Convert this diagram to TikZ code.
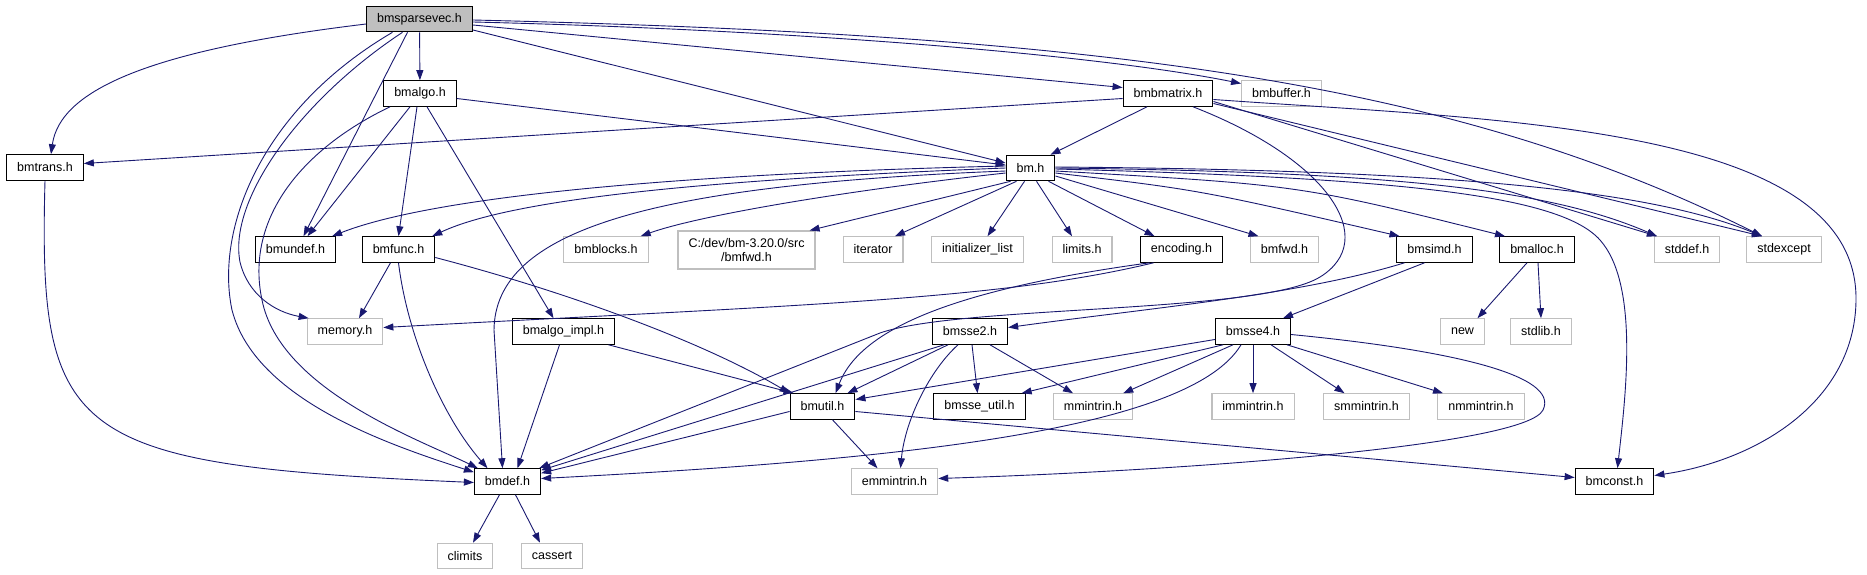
\documentclass[tikz,border=0pt]{standalone}
\usepackage{fontspec}
\setmainfont{Liberation Sans}
\usetikzlibrary{arrows.meta}
\definecolor{edgeblue}{HTML}{191970}
\definecolor{extgray}{HTML}{BFBFBF}
\begin{document}
\begin{tikzpicture}[x=1pt, y=-1pt,
		box/.style={rectangle, inner xsep=10.5pt, inner ysep=2pt, minimum height=25.5pt, font=\fontsize{12.5}{14}\selectfont},
		doc/.style={box, draw=black, line width=1.1pt, fill=white},
		ext/.style={box, draw=extgray, line width=1.1pt, fill=white},
		root/.style={doc, fill=extgray},
		incl/.style={draw=edgeblue, line width=0.9pt, -{Triangle[length=10pt,width=7pt]}}]
		\useasboundingbox (0,0) rectangle (1867,575);
		\node[root] (sparsevec) at (419.5,19) {bmsparsevec.h};
		\node[doc] (algo) at (420,93.5) {bmalgo.h};
		\node[doc] (bmatrix) at (1168,93.5) {bmbmatrix.h};
		\node[ext] (buffer) at (1281.5,93.5) {bmbuffer.h};
		\node[doc] (trans) at (45,167.5) {bmtrans.h};
		\node[doc] (bm) at (1030.5,168) {bm.h};
		\node[doc] (undef) at (295.5,249.5) {bmundef.h};
		\node[doc] (func) at (398.5,249.5) {bmfunc.h};
		\node[ext] (blocks) at (606,249.5) {bmblocks.h};
		\node[ext, align=center, minimum height=38pt] (fwdpath) at (746.5,250) {C:/dev/bm-3.20.0/src\\/bmfwd.h};
		\node[ext] (iterator) at (873,249.5) {iterator};
		\node[ext] (initlist) at (977.5,249.5) {initializer\_list};
		\node[ext] (limits) at (1082,249.5) {limits.h};
		\node[doc] (encoding) at (1181.5,249.5) {encoding.h};
		\node[ext] (fwd) at (1284.5,249.5) {bmfwd.h};
		\node[doc] (simd) at (1434.5,249.5) {bmsimd.h};
		\node[doc] (alloc) at (1537,249.5) {bmalloc.h};
		\node[ext] (stddef) at (1687,249.5) {stddef.h};
		\node[ext] (stdexcept) at (1784,249.5) {stdexcept};
		\node[ext] (memory) at (345,331.5) {memory.h};
		\node[doc] (algoimpl) at (563.5,331.5) {bmalgo\_impl.h};
		\node[doc] (sse2) at (970,331.5) {bmsse2.h};
		\node[doc] (sse4) at (1253,331.5) {bmsse4.h};
		\node[ext] (new) at (1462.5,331.5) {new};
		\node[ext] (stdlib) at (1541,331.5) {stdlib.h};
		\node[doc] (util) at (822.5,406.5) {bmutil.h};
		\node[doc] (sseutil) at (979.5,406.5) {bmsse\_util.h};
		\node[ext] (mmintrin) at (1093,406.5) {mmintrin.h};
		\node[ext] (immintrin) at (1253,406.5) {immintrin.h};
		\node[ext] (smmintrin) at (1366.5,406.5) {smmintrin.h};
		\node[ext] (nmmintrin) at (1481,406.5) {nmmintrin.h};
		\node[doc] (def) at (507.5,481.5) {bmdef.h};
		\node[ext] (emmintrin) at (894.5,481.5) {emmintrin.h};
		\node[doc] (const) at (1614.5,481.5) {bmconst.h};
		\node[ext] (climits) at (465,556) {climits};
		\node[ext] (cassert) at (552,556) {cassert};

		\draw[incl] ([yshift=-5pt]sparsevec.west) .. controls (150,50) and (60,90) .. ([xshift=6pt]trans.north);
		\draw[incl] (sparsevec) -- (algo);
		\draw[incl] ([yshift=-6pt]sparsevec.east) -- ([yshift=6pt]bmatrix.west);
		\draw[incl] ([yshift=-3pt]sparsevec.east) .. controls (800,30) and (1100,55) .. ([yshift=10pt]buffer.west);
		\draw[incl] ([yshift=-1pt]sparsevec.east) .. controls (1100,35) and (1450,80) .. ([xshift=-22pt]stdexcept.north);
		\draw[incl] ([yshift=-11pt]sparsevec.east) -- ([yshift=5pt]bm.west);
		\draw[incl] ([xshift=-12pt]sparsevec.south) -- ([xshift=8pt]undef.north);
		\draw[incl] ([xshift=-17pt]sparsevec.south) .. controls (300,100) and (228,200) .. (240,262) .. controls (248,295) and (275,312) .. ([xshift=2pt]memory.north west);
		\draw[incl] ([xshift=-27pt]sparsevec.south) .. controls (260,110) and (215,230) .. (232,310) .. controls (255,400) and (390,445) .. ([yshift=-4pt]def.north west);

		\draw[incl] ([yshift=-5pt]algo.east) -- ([yshift=3pt]bm.west);
		\draw[incl] ([xshift=-10pt]algo.south) -- ([xshift=12pt]undef.north);
		\draw[incl] ([xshift=-3pt]algo.south) -- (func.north);
		\draw[incl] ([xshift=7pt]algo.south) -- ([xshift=-10pt]algoimpl.north);
		\draw[incl] ([xshift=-30pt]algo.south) .. controls (300,150) and (245,220) .. (262,300) .. controls (280,390) and (420,440) .. ([xshift=4pt]def.north west);

		\draw[incl] (trans.south) .. controls (38,440) and (70,465) .. ([yshift=-1pt]def.west);

		\draw[incl] ([yshift=-5pt]bmatrix.west) -- ([yshift=4pt]trans.east);
		\draw[incl] ([xshift=-21pt]bmatrix.south) -- ([xshift=20pt]bm.north);
		\draw[incl] ([xshift=25pt]bmatrix.south) .. controls (1330,160) and (1380,240) .. (1320,277) .. controls (1260,314) and (960,305) .. (880,333) -- ([xshift=-2pt]def.north east);
		\draw[incl] ([yshift=-8pt]bmatrix.east) -- ([xshift=-30pt]stddef.north);
		\draw[incl] ([yshift=-10pt]bmatrix.east) -- ([xshift=-22pt]stdexcept.north);
		\draw[incl] ([yshift=-6pt]bmatrix.east) .. controls (1500,120) and (1858,125) .. (1856,300) .. controls (1855,400) and (1760,460) .. ([yshift=6pt]const.east);

		\draw[incl] ([yshift=2pt]bm.west) .. controls (750,172) and (450,190) .. ([xshift=-4pt]undef.north east);
		\draw[incl] (bm.west) .. controls (750,178) and (520,195) .. ([xshift=-3pt]func.north east);
		\draw[incl] ([yshift=-3pt]bm.west) .. controls (650,185) and (495,230) .. (494,330) -- ([xshift=-5pt]def.north);
		\draw[incl] ([yshift=-5pt]bm.west) .. controls (850,190) and (700,215) .. ([xshift=-8pt]blocks.north east);
		\draw[incl] ([xshift=-20pt]bm.south) -- ([xshift=-6pt]fwdpath.north east);
		\draw[incl] ([xshift=-14pt]bm.south) -- ([xshift=22pt]iterator.north);
		\draw[incl] ([xshift=-6pt]bm.south) -- ([xshift=10pt]initlist.north);
		\draw[incl] ([xshift=6pt]bm.south) -- ([xshift=-10pt]limits.north);
		\draw[incl] ([xshift=18pt]bm.south) -- ([xshift=-27pt]encoding.north);
		\draw[incl] ([yshift=-8pt]bm.east) -- ([xshift=-26pt]fwd.north);
		\draw[incl] ([yshift=-5pt]bm.east) .. controls (1200,190) .. ([xshift=-35pt]simd.north);
		\draw[incl] ([yshift=-3pt]bm.east) .. controls (1300,185) .. ([xshift=-32pt]alloc.north);
		\draw[incl] (bm.east) .. controls (1400,172) and (1550,190) .. ([xshift=-30pt]stddef.north);
		\draw[incl] ([yshift=1pt]bm.east) .. controls (1450,170) and (1650,190) .. ([xshift=-22pt]stdexcept.north);
		\draw[incl] ([yshift=-1pt]bm.east) .. controls (1400,178) and (1560,195) .. (1600,240) .. controls (1640,285) and (1625,400) .. ([xshift=3pt]const.north);

		\draw[incl] ([xshift=-8pt]func.south) -- ([xshift=14pt]memory.north);
		\draw[incl] (func.south) .. controls (408,340) and (445,420) .. ([xshift=-20pt]def.north);
		\draw[incl] ([yshift=-8pt]func.east) .. controls (560,290) and (700,340) .. (util.north west);

		\draw[incl] ([xshift=-28pt]encoding.south) .. controls (1000,300) and (800,305) .. ([yshift=4pt]memory.east);
		\draw[incl] ([xshift=-32pt]encoding.south) .. controls (950,290) and (860,330) .. ([xshift=13pt]util.north);

		\draw[incl] ([xshift=-4pt]algoimpl.south) -- ([xshift=10pt]def.north);
		\draw[incl] ([xshift=45pt]algoimpl.south) -- ([xshift=4pt]util.north west);

		\draw[incl] ([xshift=-30pt]simd.south) .. controls (1300,295) and (1150,308) .. ([yshift=4pt]sse2.east);
		\draw[incl] ([xshift=-10pt]simd.south) -- ([xshift=30pt]sse4.north);

		\draw[incl] ([xshift=-26pt]sse2.south) -- ([yshift=-2pt]def.north east);
		\draw[incl] ([xshift=-22pt]sse2.south) -- ([xshift=-8pt]util.north east);
		\draw[incl] ([xshift=2pt]sse2.south) -- ([xshift=-2pt]sseutil.north);
		\draw[incl] ([xshift=20pt]sse2.south) -- ([xshift=-20pt]mmintrin.north);
		\draw[incl] ([xshift=-12pt]sse2.south) .. controls (930,370) and (905,420) .. ([xshift=6pt]emmintrin.north);

		\draw[incl] ([yshift=-8pt]sse4.west) -- ([yshift=7pt]util.east);
		\draw[incl] ([xshift=-30pt]sse4.south) -- ([xshift=-4pt]sseutil.north east);
		\draw[incl] ([xshift=-20pt]sse4.south) -- ([xshift=-10pt]mmintrin.north east);
		\draw[incl] ([xshift=-12pt]sse4.south) .. controls (1190,430) and (900,460) .. ([yshift=3pt]def.east);
		\draw[incl] (sse4) -- (immintrin);
		\draw[incl] ([xshift=18pt]sse4.south) -- ([xshift=-22pt]smmintrin.north);
		\draw[incl] ([xshift=34pt]sse4.south) -- ([xshift=-38pt]nmmintrin.north);
		\draw[incl] ([yshift=-3pt]sse4.east) .. controls (1450,350) and (1560,375) .. (1543,410) .. controls (1526,445) and (1200,470) .. ([yshift=3pt]emmintrin.east);

		\draw[incl] ([yshift=-5pt]util.west) -- ([yshift=-5pt]def.north east);
		\draw[incl] ([xshift=10pt]util.south) -- ([xshift=-17pt]emmintrin.north);
		\draw[incl] ([yshift=-5pt]util.east) -- ([yshift=4pt]const.west);

		\draw[incl] ([xshift=-10pt]alloc.south) -- ([xshift=15pt]new.north);
		\draw[incl] ([xshift=1pt]alloc.south) -- (stdlib.north);

		\draw[incl] ([xshift=-8pt]def.south) -- ([xshift=8pt]climits.north);
		\draw[incl] ([xshift=8pt]def.south) -- ([xshift=-12pt]cassert.north);
	\end{tikzpicture}
\end{document}
